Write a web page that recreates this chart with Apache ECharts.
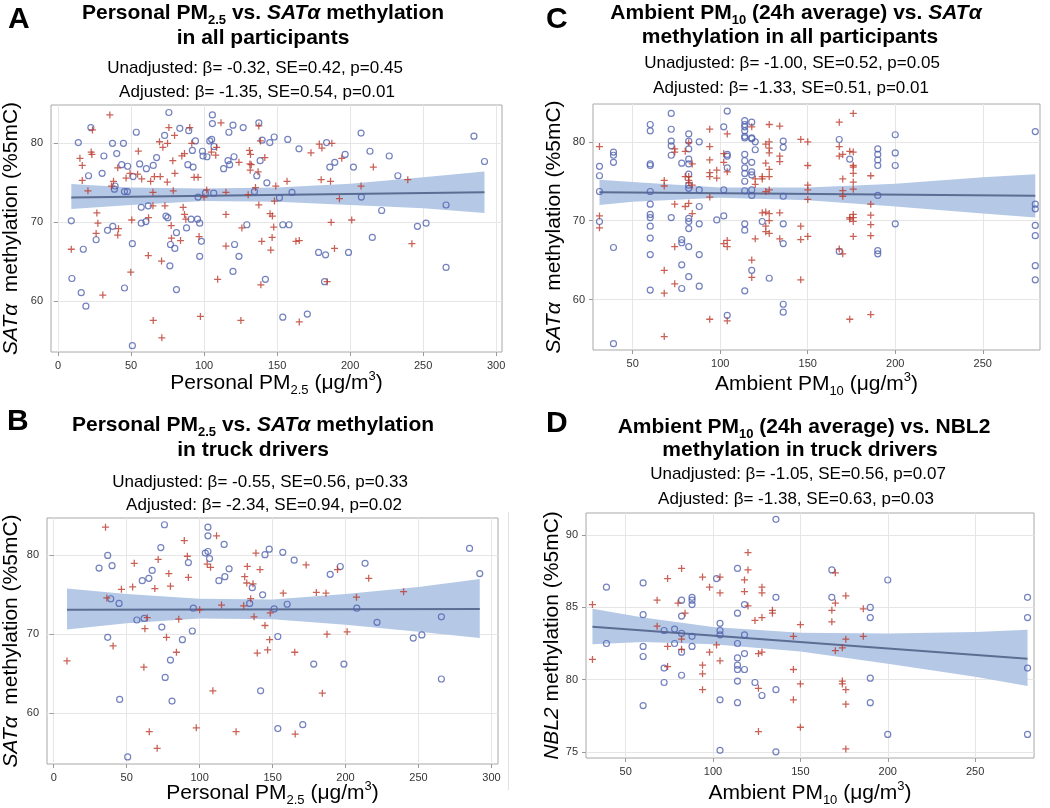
<!DOCTYPE html>
<html>
<head>
<meta charset="utf-8">
<title>PM and methylation</title>
<script src="https://cdn.jsdelivr.net/npm/echarts@6/dist/echarts.min.js"></script>
<style>
html, body { margin: 0; padding: 0; background: #fff; }
#main { width: 1050px; height: 808px; }
</style>
</head>
<body>
<div id="main"></div>
<script>
// ---- data ----
// A: personal PM2.5 vs SATa, all participants
var allPm25Circle = [[9.1,70.2],[9.5,62.9],[13.9,80.1],[15.9,61.1],[17.3,66.6],[19.1,59.4],[20.9,75.9],[22.5,82.0],[26.1,67.8],[30.2,76.2],
  [31.4,78.4],[33.9,69.0],[37.3,80.0],[37.5,69.5],[38.6,74.2],[39.1,74.6],[40.2,78.7],[43.6,77.3],[44.8,80.0],[45.5,73.9],
  [45.5,61.7],[47.5,73.9],[47.7,77.1],[50.9,67.3],[50.9,54.4],[51.4,75.8],[53.6,81.4],[55.9,77.4],[57.0,71.9],[57.0,69.9],
  [60.2,70.1],[60.5,76.8],[61.8,72.1],[65.2,77.2],[67.5,78.2],[73.0,81.0],[73.9,70.8],[75.2,70.6],[75.9,83.9],[76.6,64.5],
  [77.0,67.2],[80.0,66.7],[81.1,68.7],[81.1,61.5],[83.4,81.9],[88.0,69.3],[88.9,77.3],[89.5,81.6],[91.1,70.4],[92.0,79.1],
  [92.5,77.0],[94.1,80.3],[95.5,70.4],[95.9,73.2],[97.0,69.9],[97.0,65.7],[98.2,67.6],[98.9,79.0],[99.3,78.4],[100.9,73.7],
  [102.0,78.3],[103.9,80.3],[105.2,80.5],[105.7,83.6],[105.7,82.5],[106.6,73.7],[106.8,79.6],[113.4,76.8],[116.4,77.8],[117.0,81.4],
  [117.5,77.3],[119.8,63.8],[119.8,82.3],[120.5,78.3],[120.9,67.2],[123.9,65.7],[126.8,82.0],[129.3,69.7],[134.5,73.9],[136.1,75.9],
  [137.5,82.6],[138.4,77.8],[139.8,80.4],[142.0,62.8],[143.0,75.0],[145.0,80.1],[148.0,80.8],[151.6,73.1],[153.9,58.0],[153.9,69.7],
  [157.3,80.5],[158.2,69.7],[160.2,73.8],[165.0,79.3],[170.7,58.4],[178.4,66.2],[182.5,62.5],[183.2,65.9],[183.9,80.1],[186.1,77.0],
  [189.5,77.6],[196.6,78.6],[198.9,66.2],[202.3,77.0],[207.5,81.3],[207.7,73.2],[213.6,79.0],[215.2,68.1],[221.6,71.5],[226.8,78.4],
  [232.7,75.9],[246.1,69.5],[252.0,69.9],[265.7,72.2],[265.7,64.3],[284.8,80.9],[292.0,77.7]];
var allPm25Plus = [[9.1,66.6],[15.0,78.1],[16.6,77.2],[16.6,75.3],[20.5,74.0],[23.2,78.6],[23.6,81.7],[22.7,78.9],[26.6,71.2],[26.1,68.6],
  [27.3,69.9],[30.7,60.8],[35.5,83.6],[36.6,74.6],[38.0,75.2],[40.9,76.9],[41.4,69.2],[40.9,68.4],[46.6,75.6],[49.3,76.2],
  [49.8,63.7],[50.5,70.3],[55.0,79.0],[54.5,76.1],[57.3,75.5],[61.8,65.8],[62.0,70.6],[63.4,75.2],[65.0,73.8],[65.2,57.6],
  [65.0,72.1],[66.0,75.8],[69.5,80.2],[70.0,75.8],[70.9,65.1],[71.1,55.4],[71.8,79.5],[73.2,72.1],[74.8,75.1],[75.0,80.0],
  [75.9,82.0],[77.5,69.6],[77.7,68.0],[78.6,77.8],[78.9,74.0],[79.8,81.0],[80.0,76.2],[83.9,67.7],[84.8,78.4],[85.7,71.9],
  [86.6,71.0],[86.6,78.7],[87.5,70.4],[90.2,82.0],[91.6,80.0],[93.2,75.7],[95.9,75.7],[97.5,58.1],[96.6,68.2],[100.0,73.2],
  [101.8,74.1],[105.0,78.9],[108.0,78.5],[108.6,79.5],[109.3,62.8],[111.6,82.6],[115.0,71.0],[115.0,73.8],[115.0,67.0],[123.9,77.6],
  [125.2,57.6],[125.9,69.3],[130.2,73.5],[131.1,79.1],[131.8,78.6],[131.4,77.4],[131.6,76.6],[132.3,77.3],[135.2,74.4],[137.0,76.4],
  [137.5,72.2],[137.5,82.2],[138.9,62.1],[139.5,67.6],[138.6,80.3],[141.6,78.2],[145.2,71.1],[145.7,66.5],[146.6,68.1],[146.8,70.8],
  [147.7,69.4],[148.2,72.7],[149.1,74.6],[156.8,75.2],[162.9,67.6],[165.2,67.7],[165.2,57.4],[173.2,78.8],[178.9,79.9],[180.2,75.4],
  [180.7,79.4],[184.3,62.5],[186.6,75.2],[187.0,70.0],[187.5,80.0],[189.3,66.7],[192.7,73.0],[194.3,78.1],[201.1,70.3],[207.5,74.6],
  [215.9,77.0],[239.5,75.4],[242.3,67.3]];
var allPm25Fit = [[9.1,73.16],[292,73.8]];
var allPm25Band = [[9.1,71.7,74.85],[50,72.2,74.4],[100,72.7,74.3],[150,72.6,74.4],[200,72.2,74.9],[250,71.8,75.7],[292,71.2,76.45]];

// B: personal PM2.5 vs SATa, truck drivers
var truckPm25Circle = [[31.1,78.4],[37.0,80.0],[37.0,69.6],[39.1,74.5],[40.0,78.7],[44.8,73.9],[45.2,61.7],[50.7,54.4],[57.0,71.8],[60.7,76.8],
  [62.0,72.0],[65.2,77.1],[67.5,78.1],[73.4,81.0],[74.1,70.9],[75.9,83.9],[76.4,64.5],[80.0,66.7],[81.1,61.5],[88.2,69.3],
  [92.3,79.1],[95.0,70.4],[95.7,73.3],[103.9,80.3],[105.7,80.5],[105.7,83.6],[105.7,82.5],[106.8,79.6],[113.2,76.8],[116.8,81.4],
  [117.3,77.3],[120.2,78.3],[134.3,73.9],[136.1,75.9],[141.8,62.8],[143.2,75.0],[144.8,80.1],[147.7,80.8],[151.1,73.2],[153.6,58.0],
  [153.6,69.7],[157.0,80.4],[160.0,73.8],[164.8,79.4],[170.7,58.5],[178.2,66.2],[189.5,77.6],[196.4,78.6],[198.9,66.2],[207.7,73.3],
  [213.4,79.0],[221.6,71.5],[246.4,69.5],[252.3,69.9],[265.7,72.2],[265.7,64.3],[285.0,80.9],[292.0,77.7]];
var truckPm25Plus = [[9.1,66.6],[35.5,83.6],[36.4,74.6],[40.7,68.5],[46.4,75.7],[54.1,76.0],[55.2,79.0],[61.8,65.8],[62.5,70.7],[64.1,72.1],
  [65.5,57.6],[69.3,75.8],[71.6,79.5],[70.9,55.5],[77.3,69.6],[78.9,77.7],[80.0,76.1],[84.1,67.7],[85.7,71.9],[89.5,81.9],
  [91.6,79.9],[92.3,77.2],[97.7,58.1],[100.0,73.1],[105.2,78.9],[107.5,78.5],[109.1,62.8],[111.6,82.5],[115.0,73.7],[125.0,57.6],
  [130.2,73.6],[130.9,77.3],[132.7,78.6],[132.3,76.5],[135.0,74.5],[136.6,76.4],[137.3,72.2],[138.6,80.3],[139.5,67.6],[141.4,78.2],
  [144.8,71.1],[146.6,68.0],[148.0,69.3],[148.4,72.7],[157.3,75.2],[165.2,67.7],[165.5,57.3],[173.0,78.8],[180.0,75.3],[184.1,62.5],
  [186.6,75.2],[187.3,70.0],[194.5,78.2],[201.1,70.3],[207.5,74.7],[215.9,77.1],[239.8,75.4]];
var truckPm25Fit = [[9.1,73.1],[292,73.2]];
var truckPm25Band = [[9.1,70.6,75.8],[50,71.4,75.1],[100,72.0,74.5],[150,71.9,74.4],[200,71.2,75.1],[250,70.3,76.0],[292,69.5,77.0]];

// C: ambient PM10 vs SATa, all participants
var allPm10Circle = [[31,76.9],[31,75.7],[31,73.7],[31,69.9],
  [39,78.7],[39,78.3],[39,77.4],[39,66.6],[39,54.4],
  [60,82.2],[60,81.4],[60,77.2],[60,77.0],[60,73.7],[60,72.1],[60,70.8],[60,70.4],[60,69.3],[60,67.8],[60,65.7],[60,61.2],
  [72,83.6],[72,81.6],[72,80.1],[72,79.5],[72,78.3],[72,70.4],
  [78,77.3],[78,67.6],[78,67.2],[78,64.4],[78,61.4],
  [82,81.0],[82,80.1],[82,79.1],[82,77.8],[82,77.2],[82,75.9],[82,74.5],[82,74.1],[82,70.3],[82,69.9],[82,69.0],[82,66.7],[82,62.9],
  [88,80.0],[88,73.9],[88,71.8],[88,69.6],[88,65.7],[88,61.7],
  [98,70.1],[102,81.9],[102,73.9],[102,70.6],
  [104,83.9],[104,78.4],[104,78.2],[104,76.7],[104,58.0],
  [114,82.7],[114,82.2],[114,81.9],[114,81.4],[114,80.7],[114,80.5],[114,78.4],[114,77.6],[114,76.7],[114,76.0],[114,75.0],[114,73.8],[114,69.6],[114,68.8],[114,61.1],
  [118,82.5],[118,80.5],[118,80.4],[118,77.4],[118,76.2],[118,75.8],[118,73.9],[118,73.2],[118,63.7],
  [120,80.0],[120,79.0],[124,69.9],[128,62.7],
  [136,80.1],[136,79.3],[136,73.1],[136,69.6],[136,67.1],[136,59.4],[136,58.4],
  [168,80.3],[168,66.1],[174,77.8],
  [190,79.1],[190,78.4],[190,77.7],[190,77.0],[190,73.2],[190,66.2],[190,65.8],
  [200,80.9],[200,78.6],[200,77.0],[200,69.6],
  [280,81.3],[280,72.1],[280,71.5],[280,69.4],[280,68.1],[280,64.3],[280,62.5]];
var allPm10Plus = [[31,79.4],[31,70.6],[31,69.1],
  [68,75.1],[68,74.4],[68,63.7],[68,60.8],[68,55.3],
  [74,79.1],[74,78.7],[74,72.1],[74,66.7],[74,62.0],
  [80,78.8],[80,75.6],[80,71.8],
  [82,79.9],[82,75.6],[82,75.1],[82,74.8],[82,72.2],
  [84,77.2],[84,74.5],[84,70.9],
  [94,81.6],[94,79.4],[94,77.7],[94,76.1],[94,75.6],[94,73.0],[94,57.5],
  [98,76.4],[98,75.4],
  [102,78.5],[102,77.4],[102,67.1],
  [104,81.0],[104,76.2],[104,67.5],[104,66.7],[104,57.3],
  [118,81.9],[118,65.0],[118,62.8],
  [120,75.3],[120,74.6],[120,67.7],
  [124,75.6],[124,75.3],[124,71.0],
  [126,79.7],[126,77.3],[126,73.7],[126,71.1],[126,69.3],[126,68.6],
  [128,82.2],[128,80.0],[128,79.2],[128,78.6],[128,76.5],[128,75.6],[128,73.9],[128,70.9],[128,70.0],[128,68.4],
  [134,82.0],[134,78.2],[134,77.5],[134,71.0],[134,67.7],
  [146,80.3],[146,69.3],[146,67.6],[146,62.5],
  [150,80.0],[150,77.0],[150,74.5],[150,73.9],[150,72.7],[150,68.0],
  [168,82.5],[168,79.4],[168,78.2],[168,66.4],
  [170,78.4],[170,75.3],[170,73.8],[170,73.1],[170,65.8],
  [174,78.8],[174,70.4],[174,70.2],[174,57.5],
  [176,83.6],[176,78.7],[176,77.0],[176,76.8],[176,76.0],[176,74.9],[176,74.0],[176,70.8],[176,70.4],[176,69.9],[176,68.0],
  [186,75.7],[186,72.1],[186,70.7],[186,69.5],[186,68.1],[186,58.1]];
var allPm10Fit = [[31,73.6],[280,73.15]];
var allPm10Band = [[31,72.0,75.2],[50,72.4,74.9],[100,72.9,74.2],[150,72.6,74.2],[200,71.8,74.7],[250,70.9,75.5],[280,70.4,75.9]];

// D: ambient PM10 vs NBL2, truck drivers
var truckNbl2Circle = [[39,86.4],[39,82.5],
  [60,86.7],[60,84.5],[60,82.3],[60,81.6],[60,78.2],
  [72,83.4],[72,80.8],[72,79.8],
  [78,83.5],[78,82.5],
  [82,85.5],[82,84.4],[82,83.2],[82,81.9],[82,80.3],
  [88,85.7],[88,85.5],[88,85.2],[88,83.0],[88,82.3],
  [102,87.0],
  [104,83.9],[104,83.4],[104,83.1],[104,78.6],[104,75.1],
  [114,87.7],[114,84.6],[114,82.5],[114,81.5],[114,81.0],[114,80.7],[114,79.9],[114,78.4],
  [118,85.2],[118,83.1],[118,81.8],[118,80.7],
  [124,79.8],[128,78.9],
  [136,91.1],[136,85.7],[136,79.3],[136,75.0],
  [168,87.6],[168,85.7],
  [190,85.0],[190,84.3],[190,80.1],[190,78.4],
  [200,86.9],[200,76.2],
  [280,85.7],[280,84.3],[280,80.8],[280,76.2]];
var truckNbl2Plus = [[31,85.2],[31,81.4],
  [68,85.5],[68,83.7],
  [74,87.0],[74,82.3],[74,80.9],
  [80,85.3],
  [82,87.7],[82,82.8],[82,82.1],
  [84,84.6],
  [94,87.1],[94,81.0],[94,80.4],[94,79.3],
  [98,86.4],[98,81.9],
  [102,82.4],
  [104,87.1],[104,86.0],[104,81.3],
  [118,86.9],[118,86.1],
  [120,88.8],[120,87.6],[120,85.1],
  [124,84.1],
  [126,81.8],[126,79.4],[126,76.4],
  [128,86.4],[128,86.0],[128,84.3],[128,81.9],
  [134,84.8],[134,84.6],
  [146,83.0],[146,80.7],[146,78.6],
  [150,83.8],[150,79.7],[150,76.7],
  [168,84.8],[168,84.0],
  [170,87.4],[170,85.3],[170,82.0],
  [174,82.2],[174,79.9],[174,79.7],
  [176,85.8],[176,82.8],[176,79.3],[176,78.3],[176,75.2],
  [186,84.9],[186,83.0]];
var truckNbl2Fit = [[31,83.66],[280,81.45]];
var truckNbl2Band = [[31,82.45,84.9],[60,82.6,84.3],[100,82.45,83.65],[150,81.95,83.25],[200,81.1,83.2],[250,80.2,83.3],[280,79.55,83.45]];

// tick labels
var pm25Ticks = [0, 50, 100, 150, 200, 250, 300];
var pm10Ticks = [50, 100, 150, 200, 250];
var sataTicks = [60, 70, 80];
var nbl2Ticks = [75, 80, 85, 90];

// ---- style ----
var FONT = '"Liberation Sans", Arial, Helvetica, sans-serif';
var BLUE = '#5062ae';
var RED = '#bc3a2c';
var BAND = '#b5c9e6';
var FIT = '#5b6d92';
var PLUS = 'path://M4.1,0H5.9V4.1H10V5.9H5.9V10H4.1V5.9H0V4.1H4.1Z';

function richSet(size, weight, color) {
	var base = { fontFamily: FONT, fontSize: size, fontWeight: weight, color: color, fill: color, lineHeight: size + 6 };
	var small = Math.round(size * 0.62);
	return {
		n: base,
		i: Object.assign({}, base, { fontStyle: 'italic' }),
		sub: Object.assign({}, base, { fontSize: small, lineHeight: small + 1, verticalAlign: 'bottom' }),
		sup: Object.assign({}, base, { fontSize: small, lineHeight: small + 5, verticalAlign: 'top' })
	};
}

function txt(x, y, text, size, weight, align) {
	return {
		type: 'text', x: x, y: y, silent: true,
		style: { text: text, rich: richSet(size, weight, '#000'), align: align || 'center', verticalAlign: 'middle' }
	};
}

var grids = [
	{ left: 49, top: 105, width: 453, height: 247 },
	{ left: 593, top: 104, width: 447, height: 246 },
	{ left: 45, top: 518, width: 453, height: 248 },
	{ left: 586, top: 513, width: 448, height: 246 }
];
grids.forEach(function (g) {
	g.show = true;
	g.borderColor = '#a8a8a8';
	g.borderWidth = 1;
	g.backgroundColor = 'transparent';
});

var nameRich = richSet(21, 'normal', '#000');
var xNamePm25 = '{n|Personal PM}{sub|2.5}{n| (μg/m}{sup|3}{n|)}';
var xNamePm10 = '{n|Ambient PM}{sub|10}{n| (μg/m}{sup|3}{n|)}';
var yNameSata = '{i|SATα}{n|  methylation (%5mC)}';
var yNameNbl2 = '{i|NBL2}{n| methylation (%5mC)}';

function xAxis(idx, min, max, ticks, name, gap) {
	return {
		gridIndex: idx, type: 'value', min: min, max: max,
		name: name, nameLocation: 'middle', nameGap: gap, nameMoveOverlap: false,
		nameTextStyle: { rich: nameRich },
		axisLine: { show: false },
		axisTick: { show: true, customValues: ticks, length: 4, lineStyle: { color: '#9a9a9a' } },
		axisLabel: { customValues: ticks, fontSize: 11, color: '#333', fontFamily: FONT, margin: 8 },
		splitLine: { show: true, lineStyle: { color: '#e6e6e6', width: 1 } }
	};
}
function yAxis(idx, min, max, ticks, name, gap) {
	return {
		gridIndex: idx, type: 'value', min: min, max: max,
		name: name, nameLocation: 'middle', nameGap: gap, nameRotate: 90, nameMoveOverlap: false,
		nameTextStyle: { rich: nameRich },
		axisLine: { show: false },
		axisTick: { show: true, customValues: ticks, length: 4, lineStyle: { color: '#9a9a9a' } },
		axisLabel: { customValues: ticks, fontSize: 11, color: '#333', fontFamily: FONT, margin: 8 },
		splitLine: { show: true, lineStyle: { color: '#e6e6e6', width: 1 } }
	};
}

//置信带：上沿接下沿画成一个多边形
function bandSeries(idx, band) {
	return {
		type: 'custom', xAxisIndex: idx, yAxisIndex: idx, silent: true, z: 1,
		data: [0],
		renderItem: function (params, api) {
			var pts = [];
			for (var i = 0; i < band.length; i++) pts.push(api.coord([band[i][0], band[i][2]]));
			for (var j = band.length - 1; j >= 0; j--) pts.push(api.coord([band[j][0], band[j][1]]));
			return { type: 'polygon', shape: { points: pts }, style: { fill: BAND } };
		}
	};
}
function panelSeries(idx, circles, plus, fit, band) {
	return [
		bandSeries(idx, band),
		{ type: 'line', xAxisIndex: idx, yAxisIndex: idx, data: fit, symbol: 'none', silent: true, z: 3,
			lineStyle: { color: FIT, width: 2 } },
		{ type: 'scatter', xAxisIndex: idx, yAxisIndex: idx, data: circles, symbol: 'circle', symbolSize: 6, z: 4,
			itemStyle: { color: 'rgba(0,0,0,0)', borderColor: BLUE, borderWidth: 1.2 } },
		{ type: 'scatter', xAxisIndex: idx, yAxisIndex: idx, data: plus, symbol: PLUS, symbolSize: 7, z: 4,
			itemStyle: { color: RED } }
	];
}

var series = [].concat(
	panelSeries(0, allPm25Circle, allPm25Plus, allPm25Fit, allPm25Band),
	panelSeries(1, allPm10Circle, allPm10Plus, allPm10Fit, allPm10Band),
	panelSeries(2, truckPm25Circle, truckPm25Plus, truckPm25Fit, truckPm25Band),
	panelSeries(3, truckNbl2Circle, truckNbl2Plus, truckNbl2Fit, truckNbl2Band)
);

var graphic = [
	// A
	txt(8, 20, '{n|A}', 30, 'bold', 'left'),
	txt(263, 13, '{n|Personal PM}{sub|2.5}{n| vs. }{i|SATα}{n| methylation}', 21, 'bold'),
	txt(263, 38, '{n|in all participants}', 21, 'bold'),
	txt(255, 68, '{n|Unadjusted: β= -0.32, SE=0.42, p=0.45}', 17, 'normal'),
	txt(257, 92, '{n|Adjusted: β= -1.35, SE=0.54, p=0.01}', 17, 'normal'),
	// C
	txt(546, 20, '{n|C}', 30, 'bold', 'left'),
	txt(796, 13, '{n|Ambient PM}{sub|10}{n| (24h average) vs. }{i|SATα}', 21, 'bold'),
	txt(790, 37, '{n|methylation in all participants}', 21, 'bold'),
	txt(792, 63, '{n|Unadjusted: β= -1.00, SE=0.52, p=0.05}', 17, 'normal'),
	txt(791, 88, '{n|Adjusted: β= -1.33, SE=0.51, p=0.01}', 17, 'normal'),
	// B
	txt(7, 422, '{n|B}', 30, 'bold', 'left'),
	txt(253, 425, '{n|Personal PM}{sub|2.5}{n| vs. }{i|SATα}{n| methylation}', 21, 'bold'),
	txt(253, 450, '{n|in truck drivers}', 21, 'bold'),
	txt(260, 482, '{n|Unadjusted: β= -0.55, SE=0.56, p=0.33}', 17, 'normal'),
	txt(264, 505, '{n|Adjusted: β= -2.34, SE=0.94, p=0.02}', 17, 'normal'),
	// D
	txt(546, 424, '{n|D}', 30, 'bold', 'left'),
	txt(804, 427, '{n|Ambient PM}{sub|10}{n| (24h average) vs. NBL2}', 21, 'bold'),
	txt(800, 450, '{n|methylation in truck drivers}', 21, 'bold'),
	txt(798, 474, '{n|Unadjusted: β= -1.05, SE=0.56, p=0.07}', 17, 'normal'),
	txt(796, 499, '{n|Adjusted: β= -1.38, SE=0.63, p=0.03}', 17, 'normal'),
	// thin rule right of panel B
	{ type: 'line', silent: true, shape: { x1: 508.5, y1: 512, x2: 508.5, y2: 790 }, style: { stroke: '#e2e2e2', lineWidth: 1 } }
];

var myChart = echarts.init(document.getElementById('main'), null, { renderer: 'canvas' });
myChart.setOption({
	animation: false,
	backgroundColor: '#fff',
	grid: grids,
	xAxis: [
		xAxis(0, -4.8, 304, pm25Ticks, xNamePm25, 18),
		xAxis(1, 27.3, 282.7, pm10Ticks, xNamePm10, 21),
		xAxis(2, -4.6, 304.5, pm25Ticks, xNamePm25, 16),
		xAxis(3, 27.3, 283.7, pm10Ticks, xNamePm10, 22)
	],
	yAxis: [
		yAxis(0, 53.6, 84.85, sataTicks, yNameSata, 26),
		yAxis(1, 53.6, 84.8, sataTicks, yNameSata, 25),
		yAxis(2, 53.5, 84.76, sataTicks, yNameSata, 22),
		yAxis(3, 74.57, 91.54, nbl2Ticks, yNameNbl2, 20)
	],
	series: series,
	graphic: graphic
});
</script>
</body>
</html>
